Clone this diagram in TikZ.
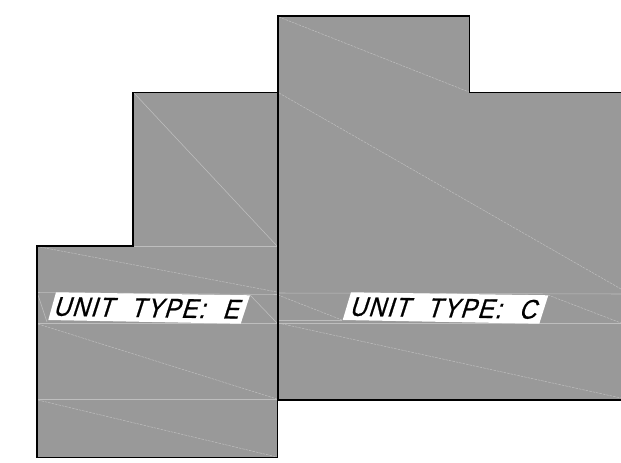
\documentclass[tikz,border=0pt]{standalone}
\usepackage{fontspec}
\setmainfont{Liberation Sans}
\newfontfamily\labelfont[LetterSpace=6,WordSpace=2.2,FakeBold=0.8]{Liberation Sans}
\tikzset{
  px/.style={x=1pt,y=-1pt},
  plan/.style={fill=planfill,draw=none},
  outline/.style={draw=black,line width=1.7pt,line join=miter,line cap=rect},
  seam/.style={draw=seamgrey,line width=0.55pt},
  dashseam/.style={draw=seamgrey,line width=0.5pt,dash pattern=on 2.5pt off 1pt},
  plate/.style={fill=white,draw=none},
  unitlabel/.style={font=\labelfont\fontsize{27}{27}\selectfont,text=black,inner sep=0pt,
    transform shape,anchor=center},
}
\definecolor{planfill}{HTML}{999999}
\definecolor{seamgrey}{HTML}{BEBEBE}
\begin{document}
\begin{tikzpicture}[px]
\useasboundingbox (0,0) rectangle (621,463);
\begin{scope}
\clip (0,0) rectangle (621,463);
\path[plan] (37,246) -- (133,246) -- (133,92.5) -- (278,92.5) -- (278,16) -- (469.5,16) -- (469.5,92.5) -- (625,92.5) -- (625,400) -- (277.5,400) -- (277.5,457.5) -- (37,457.5) -- cycle;
% left block seams
\draw[seam] (134,93) -- (277,246);
\draw[seam] (133,246) -- (277,246);
\draw[dashseam] (40,247) -- (277,292);
\draw[seam] (37,292.5) -- (277,294.5);
\draw[seam] (38,295) -- (47,322);
\draw[seam] (250,295) -- (277,323);
\draw[seam] (37,323) -- (277,323);
\draw[dashseam] (38,324) -- (277,399);
\draw[seam] (37,399.5) -- (277,399.5);
\draw[dashseam] (38,400) -- (277,457);
% right block seams
\draw[dashseam] (279,17) -- (469,92);
\draw[dashseam] (279,93) -- (621,289);
\draw[seam] (278,293) -- (621,294);
\draw[dashseam] (278,295) -- (342,320);
\draw[dashseam] (548,295) -- (621,323);
\draw[seam] (278,320) -- (342,320);
\draw[seam] (278,323) -- (621,323);
\draw[dashseam] (278,323) -- (621,398);
% outline
\draw[outline] (37,246) -- (133,246) -- (133,92.5) -- (278,92.5) -- (278,16) -- (469.5,16) -- (469.5,92.5) -- (625,92.5);
\draw[outline] (278,92.5) -- (278,400);
\draw[outline] (625,400) -- (277.5,400) -- (277.5,457.5) -- (37,457.5) -- (37,246);
% label plates
\fill[plate] (56,292.3) -- (250,295.3) -- (240.7,323.7) -- (48.3,320) -- cycle;
\fill[plate] (351,292.3) -- (548.3,295.3) -- (539.3,323.7) -- (342.7,320) -- cycle;
\end{scope}
\node[unitlabel,cm={0.88,-0.014,0.32,1,(148.5,308)}] (labelE) at (0,0) {UNIT TYPE: E};
\node[unitlabel,cm={0.88,-0.014,0.32,1,(445.5,308)}] (labelC) at (0,0) {UNIT TYPE: C};
\end{tikzpicture}
\end{document}
